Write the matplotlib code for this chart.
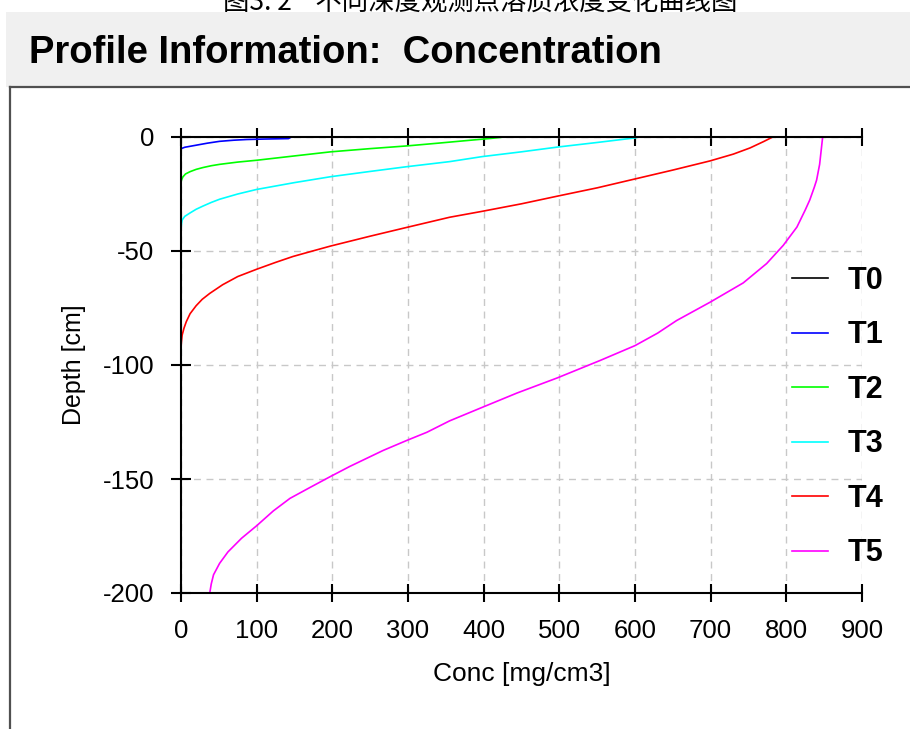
import matplotlib
matplotlib.use("Agg")
import matplotlib.pyplot as plt
from matplotlib.lines import Line2D
from matplotlib.patches import Rectangle

# ---------------- data ----------------
caption = "图3. 2    不同深度观测点溶质浓度变化曲线图"
title = "Profile Information:  Concentration"
xlabel = "Conc [mg/cm3]"
ylabel = "Depth [cm]"
series_names = ["T0", "T1", "T2", "T3", "T4", "T5"]
series_colors = ["#000000", "#0000ff", "#00ff00", "#00ffff", "#ff0000", "#ff00ff"]

t0_conc = [0, 0]
t0_depth = [-200, 0]

t1_conc = [0, 1, 5, 20, 35, 51, 70, 87, 110, 142, 146]
t1_depth = [-5.4, -5.0, -4.5, -3.6, -2.7, -1.9, -1.4, -1.1, -0.9, -0.7, 0]

t2_conc = [0, 0.5, 2.5, 6, 12, 20, 29, 40, 51, 75, 100, 150, 198, 250, 299, 340, 383, 410, 427]
t2_depth = [-20.3, -19.0, -17.5, -16.2, -15.2, -14.2, -13.4, -12.6, -12.0, -11.0, -10.2,
            -8.3, -6.5, -5.1, -3.9, -2.7, -1.4, -0.6, 0]

t3_conc = [0, 0.5, 1.5, 5, 12, 20, 29, 40, 51, 75, 100, 150, 198, 250, 299, 355, 398, 450,
           498, 550, 600, 605]
t3_depth = [-41, -38.5, -36.4, -34.8, -33.3, -31.7, -30.3, -28.7, -27.3, -25.0, -23.0,
            -20.0, -17.4, -15.1, -13.0, -10.8, -8.6, -6.5, -4.4, -2.4, -0.4, 0]

t4_conc = [0, 0.5, 1.5, 4, 7, 12, 20, 28, 38, 55, 75, 100, 125, 148, 175, 198, 250, 299, 355,
           398, 450, 498, 550, 600, 650, 699, 730, 752, 770, 782]
t4_depth = [-93, -90, -86.9, -83.8, -81, -77.5, -74, -71.2, -68.6, -64.8, -61.2, -58,
            -55, -52.4, -49.9, -47.8, -43.5, -39.6, -35.2, -32.6, -29.3, -25.9, -22.3,
            -18.4, -14.5, -10.5, -7.5, -4.8, -2.0, 0]

t5_conc = [38, 40, 43, 51, 62, 80, 100, 122, 144, 170, 197, 223, 267, 299, 325, 355, 395, 444,
           497, 554, 600, 630, 655, 699, 743, 774, 796, 814, 825, 831, 837, 840, 844, 846, 848]
t5_depth = [-200, -196, -192, -187, -182, -176, -170.5, -164, -158.5, -153.8, -149, -144.5,
            -137.5, -133, -129.5, -124.5, -119, -112.3, -105.7, -98, -91.5, -86, -80.5,
            -72.5, -64, -55.5, -47.5, -39.5, -32, -27.6, -22, -18.9, -12, -6, 0]

x_ticks = [0, 100, 200, 300, 400, 500, 600, 700, 800, 900]
y_ticks = [0, -50, -100, -150, -200]

series = [(t0_conc, t0_depth), (t1_conc, t1_depth), (t2_conc, t2_depth),
          (t3_conc, t3_depth), (t4_conc, t4_depth), (t5_conc, t5_depth)]

# ---------------- figure ----------------
W, H = 910, 729
SANS = ["Liberation Sans Narrow", "Liberation Sans", "DejaVu Sans"]
fig = plt.figure(figsize=(W / 100, H / 100), dpi=100)
fig.patch.set_facecolor("white")

def fx(px):
    return px / W

def fy(py):
    return 1 - py / H

# gray title band
fig.patches.append(Rectangle((fx(6), fy(87)), 1 - fx(6), fy(12) - fy(87),
                             transform=fig.transFigure, facecolor="#f0f0f0",
                             edgecolor="none", zorder=0))
# panel border
fig.lines.append(Line2D([fx(10), 1], [fy(87), fy(87)], transform=fig.transFigure,
                        color="#505050", lw=1.6))
fig.lines.append(Line2D([fx(10), fx(10)], [fy(87), 0], transform=fig.transFigure,
                        color="#505050", lw=1.6))

# caption at the very top (cut by the page edge as in the reference)
fig.text(fx(480), fy(11), caption, family=["Noto Sans CJK SC", "DejaVu Sans"],
         fontsize=19, ha="center", va="baseline", color="black")

fig.text(fx(29), fy(63), title, family=SANS, fontsize=27.5, fontweight="bold",
         ha="left", va="baseline", color="black")

ax = fig.add_axes([fx(181), fy(593), fx(862) - fx(181), fy(137) - fy(593)])
ax.set_facecolor("none")

for (c, d), name, col in zip(series, series_names, series_colors):
    ax.plot(c, d, color=col, lw=1.2, label=name, zorder=3)

ax.set_xlim(0, 900)
ax.set_ylim(-200, 0)
ax.set_xticks(x_ticks)
ax.set_yticks(y_ticks)
ax.set_xticklabels([str(v) for v in x_ticks])
ax.set_yticklabels([str(v) for v in y_ticks])

ax.grid(True, color="#c8c8c8", linestyle=(0, (5, 4)), linewidth=1.0, zorder=1)
ax.set_axisbelow(True)

for s in ["left", "bottom", "top"]:
    ax.spines[s].set_color("black")
    ax.spines[s].set_linewidth(1.5)
    ax.spines[s].set_zorder(4)
ax.spines["right"].set_visible(False)

ax.tick_params(axis="x", which="both", direction="inout", length=13, width=1.5,
               top=True, bottom=True, labeltop=False, pad=12, labelsize=18.5)
ax.tick_params(axis="y", which="both", direction="inout", length=14, width=1.5,
               left=True, right=False, pad=12, labelsize=18.5)
for lab in ax.get_xticklabels() + ax.get_yticklabels():
    lab.set_family(SANS)

ax.set_xlabel(xlabel, family=SANS, fontsize=19, va="center")
ax.xaxis.set_label_coords(0.5, -0.177)
ax.set_ylabel(ylabel, family=["Liberation Sans", "DejaVu Sans"], fontsize=18, va="center")
ax.yaxis.set_label_coords(-0.157, 0.5)

leg = ax.legend(loc="upper left", bbox_to_anchor=(fx(792), fy(266)),
                bbox_transform=fig.transFigure, frameon=False,
                prop={"family": SANS, "size": 22, "weight": "bold"},
                handlelength=1.18, handletextpad=0.65, labelspacing=0.80,
                borderpad=0, borderaxespad=0)
for h in leg.get_lines():
    h.set_linewidth(1.2)

fig.savefig("out.png", dpi=100, facecolor=fig.get_facecolor())
